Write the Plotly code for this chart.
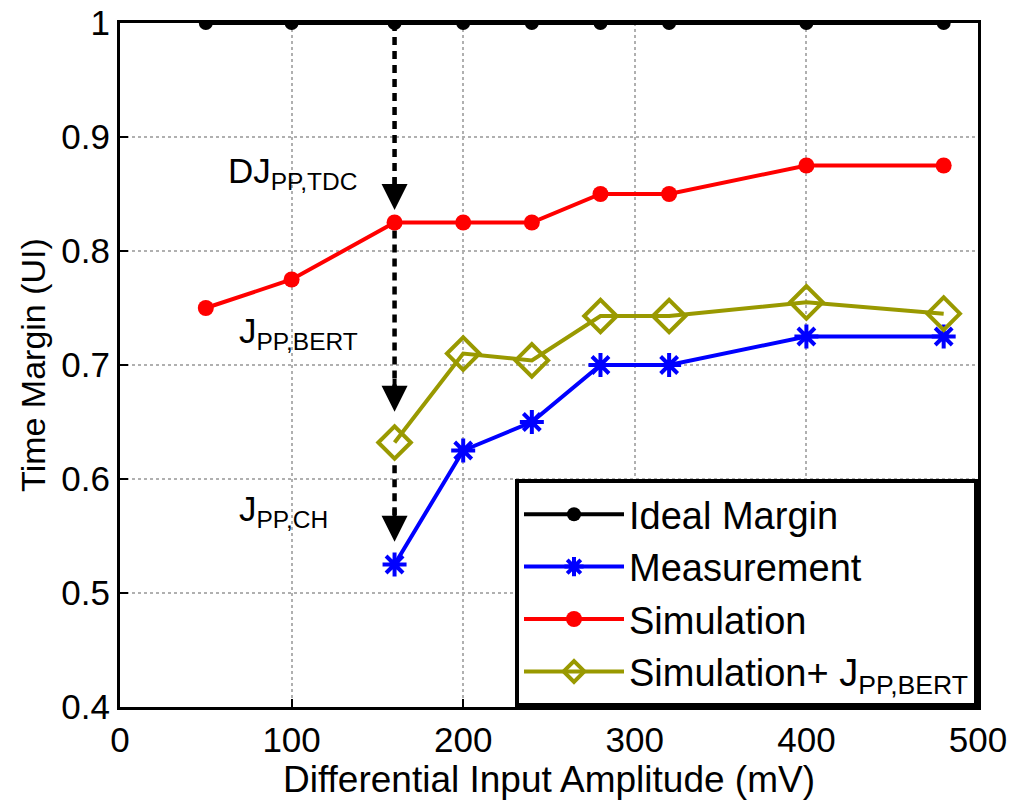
import plotly.graph_objects as go

x_vals = [50, 100, 160, 200, 240, 280, 320, 400, 480]
ideal = [1, 1, 1, 1, 1, 1, 1, 1, 1]
simulation = [0.75, 0.775, 0.825, 0.825, 0.825, 0.85, 0.85, 0.875, 0.875]
x_meas = [160, 200, 240, 280, 320, 400, 480]
measurement = [0.525, 0.625, 0.65, 0.70, 0.70, 0.725, 0.725]
sim_bert = [0.632, 0.71, 0.704, 0.743, 0.743, 0.755, 0.745]

arrow_x = 160
# dashed arrow segments (start, tip) in UI
arrow_segments = [(1.0, 0.836), (0.818, 0.659), (0.612, 0.545)]
labels = [("DJ<sub>PP,TDC</sub>", 62, 0.868), ("J<sub>PP,BERT</sub>", 68, 0.728), ("J<sub>PP,CH</sub>", 68, 0.572)]

FONT = "Liberation Sans, Arial, sans-serif"
OLIVE = "#999900"

fig = go.Figure()

# dashed arrow shafts
for y0, y1 in arrow_segments:
    fig.add_trace(go.Scatter(x=[arrow_x, arrow_x], y=[y0, y1 + 0.012], mode="lines",
                             line=dict(color="black", width=4.5, dash="8px,6px"),
                             showlegend=False, hoverinfo="skip"))
    fig.add_annotation(x=arrow_x, y=y1, ax=arrow_x, ay=y1 + 0.03, xref="x", yref="y",
                       axref="x", ayref="y", showarrow=True, arrowhead=2, arrowsize=1.3,
                       arrowwidth=4, arrowcolor="black", text="")

fig.add_trace(go.Scatter(x=x_vals, y=ideal, mode="lines+markers", name="Ideal Margin",
                         line=dict(color="black", width=4),
                         marker=dict(symbol="circle", size=14, color="black"),
                         legendgroup="a"))
fig.add_trace(go.Scatter(x=x_meas, y=measurement, mode="lines+markers", name="Measurement",
                         line=dict(color="#0000ff", width=4),
                         marker=dict(symbol="asterisk-open", size=20, color="#0000ff",
                                     line=dict(color="#0000ff", width=4)),
                         legendgroup="b"))
fig.add_trace(go.Scatter(x=x_vals, y=simulation, mode="lines+markers", name="Simulation",
                         line=dict(color="#ff0000", width=4),
                         marker=dict(symbol="circle", size=16, color="#ff0000"),
                         legendgroup="c"))
fig.add_trace(go.Scatter(x=x_meas, y=sim_bert, mode="lines+markers",
                         name="Simulation+ J<sub>PP,BERT</sub>",
                         line=dict(color=OLIVE, width=4),
                         marker=dict(symbol="diamond-open", size=25, color=OLIVE,
                                     line=dict(color=OLIVE, width=4)),
                         legendgroup="d"))

for txt, xv, yv in labels:
    fig.add_annotation(x=xv, y=yv, xref="x", yref="y", text=txt, showarrow=False,
                       xanchor="left", yanchor="middle",
                       font=dict(family=FONT, size=35, color="black"))

axis_common = dict(showline=True, linecolor="black", linewidth=3, mirror=True,
                   showgrid=True, gridcolor="#b0b0b0", griddash="dot", gridwidth=1.5,
                   ticks="inside", ticklen=8, tickwidth=2, tickcolor="black",
                   zeroline=False, automargin=False,
                   tickfont=dict(family=FONT, size=35, color="black"))

fig.update_xaxes(range=[0, 500], dtick=100, title=dict(text="Differential Input Amplitude (mV)",
                 font=dict(family=FONT, size=37, color="black"), standoff=0), **axis_common)
fig.update_yaxes(range=[0.4, 1.0], dtick=0.1, tickformat=".1~f",
                 title=dict(text="Time Margin (UI)", font=dict(family=FONT, size=34, color="black"),
                            standoff=6), **axis_common)

fig.update_layout(
    width=1021, height=800,
    margin=dict(l=120, r=43, t=23, b=93),
    paper_bgcolor="white", plot_bgcolor="white",
    font=dict(family=FONT, color="black"),
    legend=dict(x=1.0, y=0.0, xanchor="right", yanchor="bottom",
                bgcolor="white", bordercolor="black", borderwidth=4,
                font=dict(family=FONT, size=38, color="black"),
                traceorder="grouped", tracegroupgap=0, itemwidth=100,
                entrywidth=460, entrywidthmode="pixels"),
)

fig.write_html("out.html")
